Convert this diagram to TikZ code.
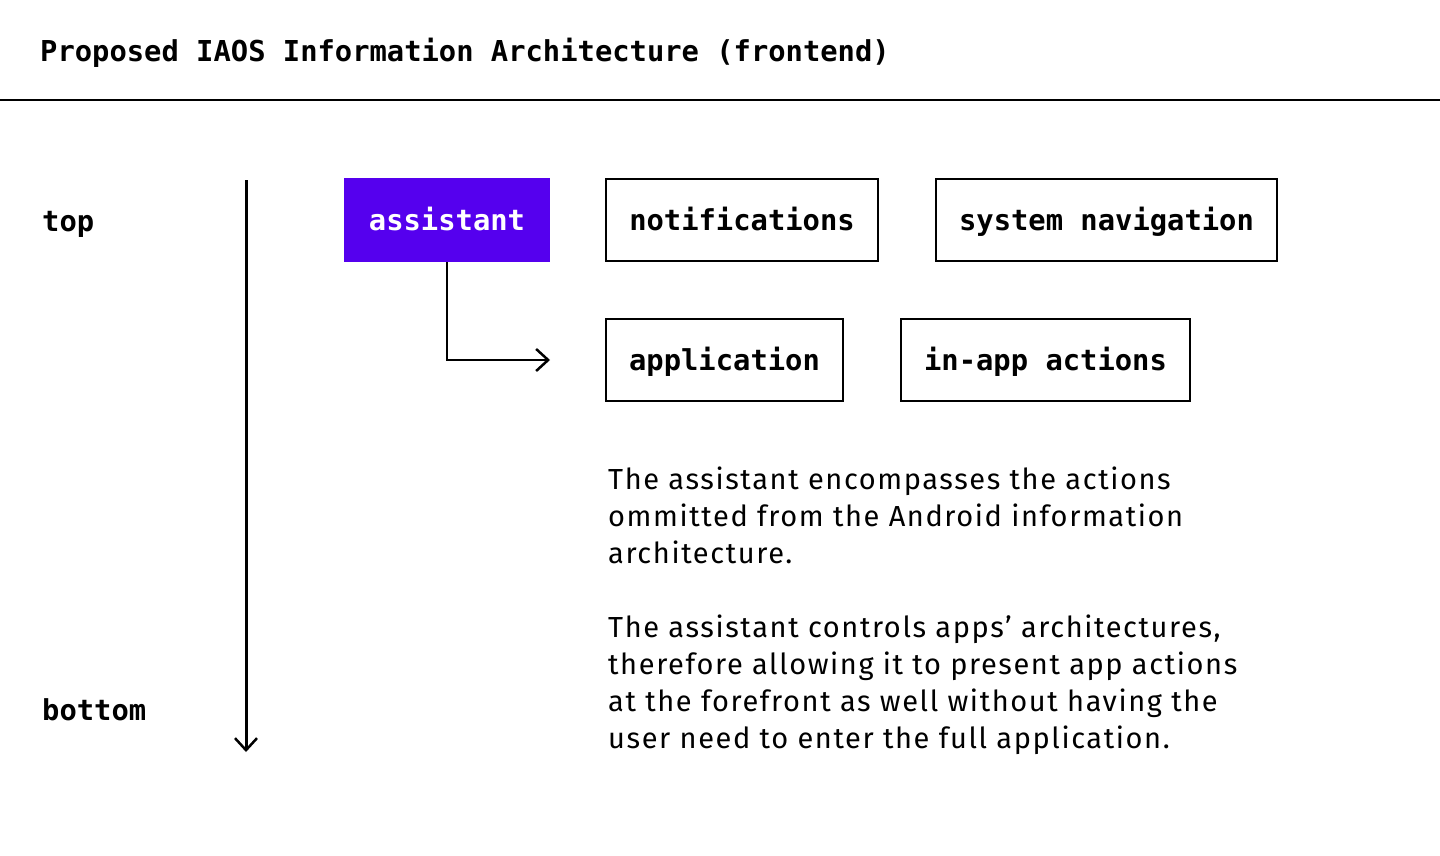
\documentclass[tikz,border=0pt]{standalone}
\usepackage{fontspec}
\setmainfont{Fira Sans}[LetterSpace=5.5]
\newfontfamily\monob{DejaVu Sans Mono}[BoldFont={DejaVu Sans Mono Bold}]
\usetikzlibrary{arrows.meta}
\definecolor{assist}{RGB}{85,0,238}
\tikzset{
  lbl/.style={font=\monob\bfseries\fontsize{28.8}{34}\selectfont, inner sep=0pt, anchor=base west},
  box/.style={draw=black, line width=2pt, rectangle, inner sep=0pt, minimum height=82pt,
    text height=20pt, text depth=0pt, font=\monob\bfseries\fontsize{28.8}{34}\selectfont},
  body/.style={font=\fontsize{29}{37}\selectfont, inner sep=0pt, anchor=base west},
  conn/.style={line width=2.5pt, -{Straight Barb[length=12pt,width=22pt,line width=2.5pt]}}
}
\begin{document}
\begin{tikzpicture}[x=1pt,y=-1pt]
\useasboundingbox (0,0) rectangle (1440,856);
\node[lbl] (title) at (40,62) {Proposed IAOS Information Architecture (frontend)};
\coordinate (hl) at (0,100);
\coordinate (hr) at (1440,100);
\draw[line width=2pt] (hl) -- (hr);

\node[lbl] (top) at (42,231) {top};
\node[lbl] (bottom) at (42,720) {bottom};
\coordinate (vt) at (246,180);
\coordinate (vb) at (246,752);
\draw[conn, line width=3pt] (vt) -- (vb);

\node[box, fill=assist, draw=assist, text=white, minimum width=204pt] (assistant) at (447,220) {assistant};
\node[box, minimum width=272pt] (notif) at (742,220) {notifications};
\node[box, minimum width=341pt] (sysnav) at (1106.5,220) {system navigation};
\node[box, minimum width=237pt] (app) at (724.5,360) {application};
\node[box, minimum width=289pt] (inapp) at (1045.5,360) {in-app actions};

\coordinate (arrend) at (550,360);
\draw[conn] (assistant.south) |- (arrend);

\node[body] (p1) at (608,489) {The assistant encompasses the actions};
\node[body] (p2) at (608,526) {ommitted from the Android information};
\node[body] (p3) at (608,563) {architecture.};
\node[body] (p4) at (608,637) {The assistant controls apps’ architectures,};
\node[body] (p5) at (608,674) {therefore allowing it to present app actions};
\node[body] (p6) at (608,711) {at the forefront as well without having the};
\node[body] (p7) at (608,748) {user need to enter the full application.};
\end{tikzpicture}
\end{document}
